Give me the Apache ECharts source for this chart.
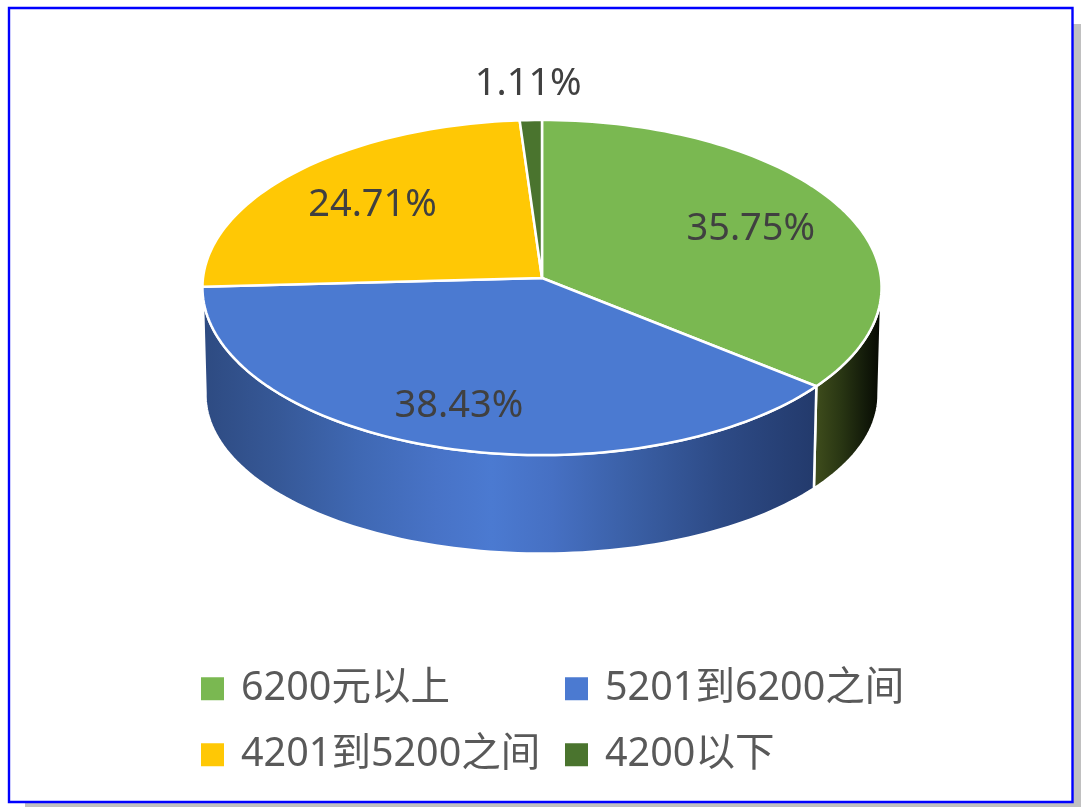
<!DOCTYPE html>
<html>
<head>
<meta charset="utf-8">
<style>html,body{margin:0;padding:0;background:#fff}#c{width:1081px;height:807px}</style>
<script src="https://cdn.jsdelivr.net/npm/echarts@6/dist/echarts.min.js"></script>
</head>
<body>
<div id="c"></div>
<script>
const categories = ['6200元以上', '5201到6200之间', '4201到5200之间', '4200以下'];
const values = [35.75, 38.43, 24.71, 1.11];
const colors = ['#7AB851', '#4B7AD1', '#FFC805', '#4A742E'];
const labelRadius = [0.695, 0.765, 0.685, 1.25];

const CX = 542, TOPY = 278, TOPH = 167, TOPR = 339;
const BOTY = 386, BOTH = 158, BOTR = 336, K = 0.057;
const total = values.reduce((a, b) => a + b, 0);

function project(deg, r, cy, h, rx) {
  const t = deg * Math.PI / 180, u = Math.sin(t) * r, v = Math.cos(t) * r, d = 1 + K * v;
  return [CX + rx * u / d, cy - h * v / d];
}
const topPt = (deg, r) => project(deg, r === undefined ? 1 : r, TOPY, TOPH, TOPR);
const botPt = deg => project(deg, 1, BOTY, BOTH, BOTR);
function arc(fn, a, b) {
  const n = Math.max(2, Math.ceil(Math.abs(b - a) / 1.5)), pts = [];
  for (let i = 0; i <= n; i++) pts.push(fn(a + (b - a) * i / n));
  return pts;
}
const sideFills = [
  new echarts.graphic.LinearGradient(815, 0, 880, 0, [
    { offset: 0, color: '#3F4D1C' }, { offset: 0.4, color: '#293613' }, { offset: 0.75, color: '#141C0A' }, { offset: 1, color: '#070A03' }
  ], true),
  new echarts.graphic.LinearGradient(205, 0, 815, 0, [
    { offset: 0, color: '#2E4B82' }, { offset: 0.12, color: '#365897' }, { offset: 0.25, color: '#3F68B3' },
    { offset: 0.38, color: '#4873C7' }, { offset: 0.47, color: '#4B7AD1' }, { offset: 0.57, color: '#4670C3' },
    { offset: 0.7, color: '#3A5FA5' }, { offset: 0.85, color: '#2D4A85' }, { offset: 1, color: '#233A6C' }
  ], true)
];
const sideRange = [[93, null], [null, 267.5]];

function renderSlice(params) {
  const i = params.seriesIndex;
  let before = 0;
  for (let j = 0; j < i; j++) before += values[j];
  const a0 = before / total * 360, a1 = (before + values[i]) / total * 360, mid = (a0 + a1) / 2;
  const children = [];
  if (i < 2) {
    const s0 = sideRange[i][0] === null ? a0 : sideRange[i][0];
    const s1 = sideRange[i][1] === null ? a1 : sideRange[i][1];
    const pts = arc(topPt, s0, s1).concat(arc(botPt, s1, s0));
    children.push({
      type: 'polygon', z2: 1, shape: { points: pts },
      style: { fill: sideFills[i], stroke: '#fff', lineWidth: 2.5, lineJoin: 'round' }
    });
  }
  children.push({
    type: 'polygon', z2: 2,
    shape: { points: [[CX, TOPY]].concat(arc(topPt, a0, a1)) },
    style: { fill: colors[i], stroke: '#fff', lineWidth: 2.5, lineJoin: 'round' }
  });
  const lp = topPt(mid, labelRadius[i]);
  children.push({
    type: 'text', z2: 3,
    style: {
      text: values[i].toFixed(2) + '%', x: lp[0], y: lp[1] + 1, align: 'center', verticalAlign: 'middle',
      fill: '#404040', font: '38px "Noto Sans", "Noto Sans CJK SC", sans-serif'
    }
  });
  return { type: 'group', children };
}

const legendPos = [[201, 669], [565, 669], [201, 735], [565, 735]];
const chart = echarts.init(document.getElementById('c'), null, { renderer: 'canvas' });
chart.setOption({
  animation: false,
  backgroundColor: '#fff',
  graphic: [
    { type: 'rect', silent: true, z: -2, shape: { x: 25, y: 24, width: 1056, height: 783 }, style: { fill: '#C0C0C0' } },
    { type: 'rect', silent: true, z: -1, shape: { x: 9, y: 8, width: 1063.5, height: 794 }, style: { fill: '#fff', stroke: '#0000FF', lineWidth: 2.4 } }
  ],
  legend: categories.map((name, i) => ({
    data: [name],
    left: legendPos[i][0], top: legendPos[i][1],
    padding: 0, itemWidth: 23, itemHeight: 23, icon: 'rect',
    selectedMode: false,
    textStyle: {
      color: '#595959', fontSize: 39.5, padding: [0, 0, 0, 12],
      fontFamily: '"Noto Sans", "Noto Sans CJK SC", sans-serif'
    }
  })),
  series: categories.map((name, i) => ({
    type: 'custom', name, coordinateSystem: 'none', clip: false,
    itemStyle: { color: colors[i] },
    renderItem: renderSlice,
    data: [values[i]]
  }))
});
</script>
</body>
</html>
